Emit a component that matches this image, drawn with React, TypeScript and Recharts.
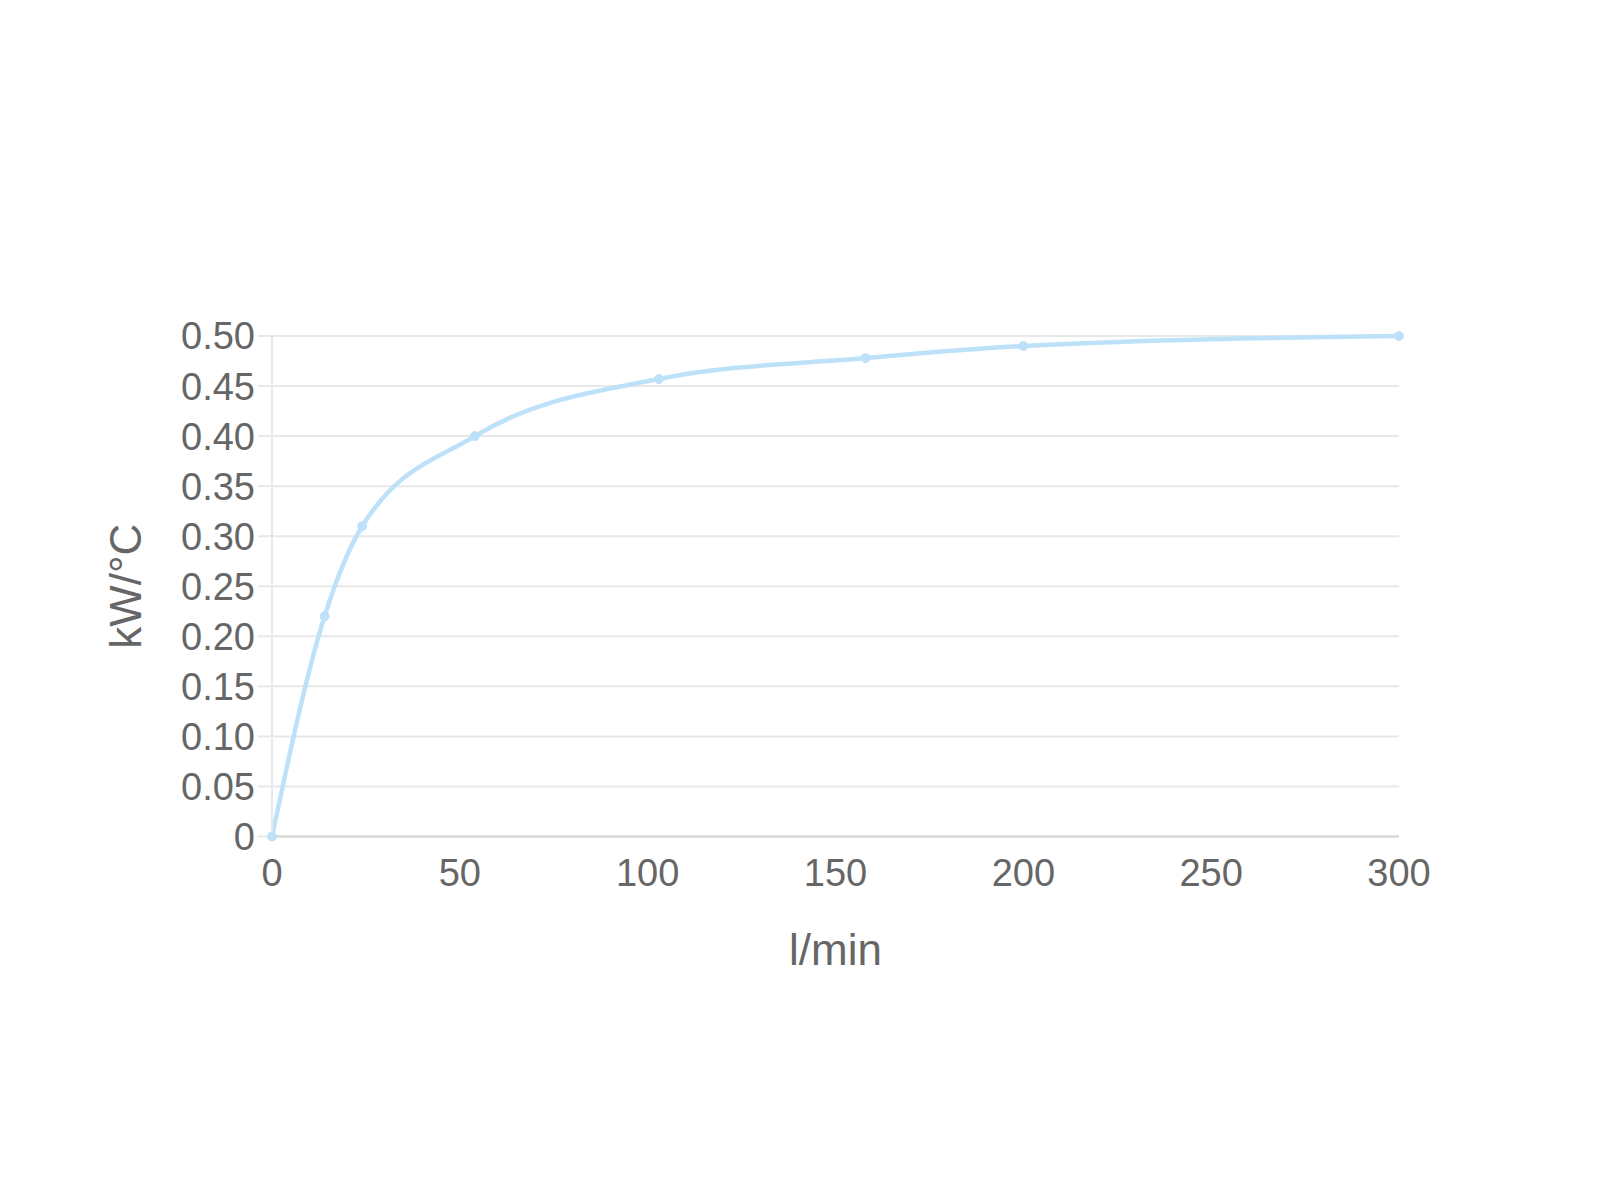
import { LineChart, Line, XAxis, YAxis, CartesianGrid } from 'recharts'

// flow rate (l/min) vs. heat transfer (kW/°C)
const flow = [0, 14, 24, 54, 103, 158, 200, 300]
const power = [0, 0.22, 0.31, 0.4, 0.457, 0.478, 0.49, 0.5]

const xTicks = [0, 50, 100, 150, 200, 250, 300]
const yTicks = [0, 0.05, 0.1, 0.15, 0.2, 0.25, 0.3, 0.35, 0.4, 0.45, 0.5]

const data = flow.map((f, i) => ({ flow: f, power: power[i] }))

const font = '"Liberation Sans", Arial, sans-serif'
const textColor = '#666666'
const lineColor = '#bde1f8'
const gridColor = '#e8e8e8'

export default function App() {
  return (
    <div style={{ position: 'absolute', left: 0, top: 0, background: '#fff' }}>
      <LineChart
        width={1600}
        height={1200}
        data={data}
        margin={{ top: 336, right: 201, bottom: 233.5, left: 100 }}
        style={{ fontFamily: font }}
      >
        <CartesianGrid vertical={false} stroke={gridColor} strokeWidth={2} />
        <XAxis
          dataKey="flow"
          type="number"
          domain={[0, 300]}
          ticks={xTicks}
          height={130}
          tickLine={false}
          tickSize={0}
          tickMargin={23}
          axisLine={{ stroke: '#d6d6d6', strokeWidth: 2 }}
          tick={{ fontSize: 38, fill: textColor, fontFamily: font }}
          label={{
            value: 'l/min',
            position: 'insideBottom',
            offset: 2,
            fontSize: 44,
            fill: textColor,
            fontFamily: font,
          }}
        />
        <YAxis
          type="number"
          domain={[0, 0.5]}
          ticks={yTicks}
          width={172}
          tickSize={14}
          tickMargin={3}
          tickLine={{ stroke: gridColor, strokeWidth: 2 }}
          axisLine={{ stroke: gridColor, strokeWidth: 2 }}
          tickFormatter={(v: number) => (v === 0 ? '0' : v.toFixed(2))}
          tick={{ fontSize: 38, fill: textColor, fontFamily: font }}
          label={{
            value: 'kW/°C',
            angle: -90,
            position: 'insideLeft',
            offset: 25,
            fontSize: 44,
            fill: textColor,
            fontFamily: font,
            style: { textAnchor: 'middle' },
          }}
        />
        <Line
          type="monotone"
          dataKey="power"
          stroke={lineColor}
          strokeWidth={4.5}
          dot={{ r: 4.5, fill: lineColor, stroke: lineColor, strokeWidth: 1 }}
          isAnimationActive={false}
        />
      </LineChart>
    </div>
  )
}
